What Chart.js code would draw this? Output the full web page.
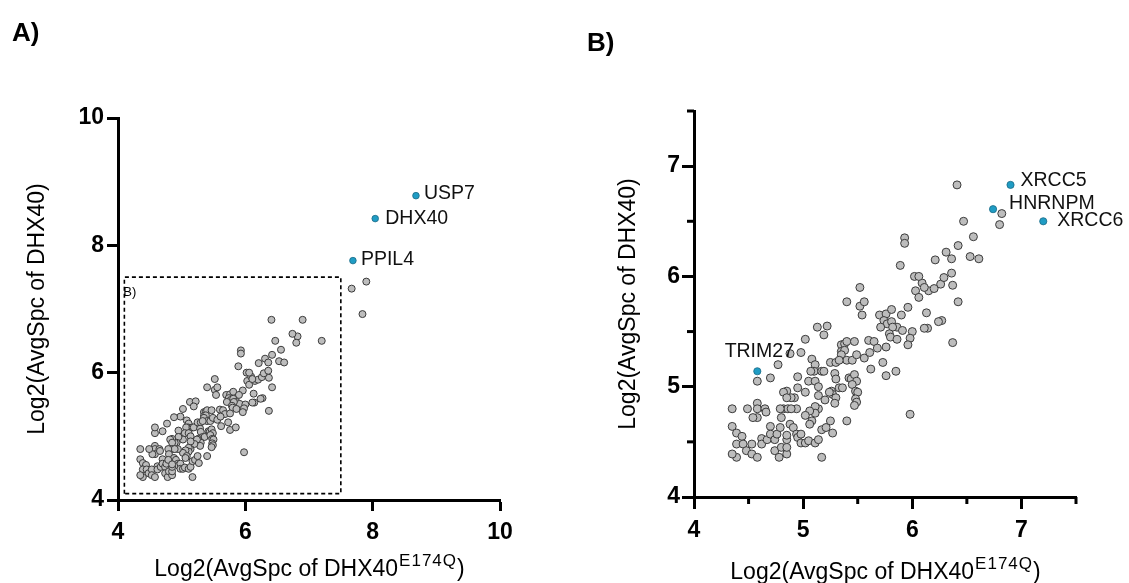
<!DOCTYPE html>
<html>
<head>
<meta charset="utf-8">
<script src="https://cdn.jsdelivr.net/npm/chart.js@4"></script>
<style>
  html, body { margin: 0; padding: 0; background: #fff; }
  #wrap { position: relative; width: 1129px; height: 583px; }
  #boxA { position: absolute; left: 0; top: 0; width: 564px; height: 583px; }
  #boxB { position: absolute; left: 564px; top: 0; width: 565px; height: 583px; }
</style>
</head>
<body>
<div id="wrap">
  <div id="boxA"><canvas id="chartA"></canvas></div>
  <div id="boxB"><canvas id="chartB"></canvas></div>
</div>
<script>
// proteins inside the zoomed window (shared by both panels)
var grayX = [
  5.52,5.40,5.52,5.56,5.54,6.03,6.09,6.06,6.15,6.20,
  6.26,6.37,6.42,6.13,5.96,5.70,5.76,5.81,5.90,5.74,
  5.77,5.81,5.71,5.86,5.91,5.82,6.00,5.98,5.96,5.79,
  5.80,5.86,6.14,6.11,6.27,6.24,6.37,5.13,5.22,5.19,
  5.02,4.98,4.88,4.77,4.70,4.58,5.35,5.38,5.40,5.47,
  5.35,5.38,5.35,5.40,5.45,5.49,5.56,5.60,5.65,5.68,
  5.76,5.61,5.73,5.76,5.85,5.62,5.08,5.11,5.10,5.07,
  5.17,5.19,5.25,5.30,5.33,4.95,5.05,5.11,5.14,5.29,
  5.30,5.33,5.36,5.42,5.44,5.47,5.49,5.45,5.48,5.50,
  5.48,5.49,5.47,5.26,5.27,5.30,5.29,5.24,5.20,5.14,
  5.14,5.11,5.11,5.06,5.02,5.02,4.95,4.92,4.89,4.85,
  4.82,4.85,4.82,4.86,4.94,4.89,4.79,4.80,4.88,4.91,
  4.94,4.95,4.98,4.98,5.02,5.05,5.11,5.14,5.17,5.21,
  5.25,5.27,5.08,5.06,5.17,5.40,5.98,4.58,4.58,4.58,
  4.54,4.49,4.65,4.66,4.35,4.35,4.39,4.44,4.39,4.45,
  4.48,4.53,4.53,4.58,4.39,4.35,4.62,4.62,4.67,4.70,
  4.70,4.74,4.76,4.79,4.74,4.78,4.80,4.85,4.85,4.85,
  4.85,6.41,6.82,6.80,6.47,6.56,6.42,6.31,6.36,6.21,
  6.53,6.61,5.93,5.93,5.89,6.02,6.06,6.29,6.36,6.11
];
var grayY = [
  5.90,5.77,5.73,5.77,5.65,5.87,5.94,5.81,5.87,5.89,
  5.93,5.92,5.77,5.67,5.72,5.65,5.66,5.70,5.65,5.60,
  5.57,5.59,5.54,5.54,5.51,5.54,5.50,5.44,5.38,5.48,
  5.45,5.43,5.53,5.53,5.60,5.59,5.40,5.54,5.55,5.47,
  5.43,5.31,5.30,5.20,5.08,5.05,5.38,5.39,5.41,5.41,
  5.32,5.33,5.29,5.24,5.24,5.29,5.26,5.42,5.41,5.35,
  5.36,5.31,5.22,5.10,5.14,5.16,5.25,5.20,5.14,5.14,
  5.14,5.14,5.22,5.22,5.24,5.09,5.05,5.05,5.00,5.12,
  5.07,4.99,4.99,5.08,5.07,5.11,5.05,5.02,4.96,4.95,
  4.89,4.86,4.83,4.96,4.93,4.90,4.85,4.95,4.88,4.92,
  4.80,4.82,4.76,4.78,4.74,4.95,4.99,4.90,4.90,4.96,
  4.95,4.90,4.80,4.80,4.80,4.80,4.80,4.72,4.66,4.63,
  4.57,4.54,4.57,4.49,4.49,4.51,4.49,4.52,4.61,4.63,
  4.69,4.58,4.69,4.66,4.36,4.69,4.75,4.85,4.80,4.72,
  4.72,4.80,4.80,4.77,4.80,4.64,4.58,4.55,4.48,4.48,
  4.42,4.48,4.39,4.36,4.36,4.39,4.53,4.48,4.52,4.64,
  4.57,4.52,4.57,4.63,4.42,4.36,4.45,4.39,4.45,4.52,
  4.56,6.83,6.57,6.47,6.50,6.36,6.28,6.22,6.16,6.15,
  6.18,6.16,6.35,6.30,6.10,6.00,6.00,5.99,6.03,5.90
];
// proteins only visible in panel A
var extraX = [7.67, 7.90, 7.84];
var extraY = [7.32, 7.43, 6.92];

// highlighted proteins
var hitNamesA = ['USP7', 'DHX40', 'PPIL4'];
var hitXA = [8.68, 8.04, 7.69];
var hitYA = [8.78, 8.42, 7.76];
var hitNamesB = ['XRCC5', 'HNRNPM', 'XRCC6', 'TRIM27'];
var hitXB = [6.90, 6.74, 7.20, 4.58];
var hitYB = [6.83, 6.61, 6.50, 5.14];

// axes
var rangeA = [4, 10];
var ticksA = [4, 6, 8, 10];
var rangeB = [4, 7.5];
var ticksB = [4, 5, 6, 7];
var minorB = [4.5, 5.5, 6.5, 7.5];
var boxX = [4.1, 7.5];
var boxY = [4.1, 7.5];

var xTitle = ['Log2(AvgSpc of DHX40', 'E174Q', ')'];
var yTitle = 'Log2(AvgSpc of DHX40)';

var FONT = '"Liberation Sans", Arial, Helvetica, sans-serif';
var GRAY = '#bdbdbd', GRAY_EDGE = '#3a3a3a', BLUE = '#1f9cc4', BLUE_EDGE = '#1a6a85';

function pts(xs, ys) {
  return xs.map(function(x, i) { return { x: x, y: ys[i] }; });
}

function axis(range, ticks, isY, size, tickLen, pad) {
  return {
    type: 'linear',
    min: range[0],
    max: range[1],
    afterBuildTicks: function(s) { s.ticks = ticks.map(function(v) { return { value: v }; }); },
    afterFit: function(s) { if (isY) s.width = size; else s.height = size; },
    border: { display: true, color: '#000', width: 3 },
    grid: { display: true, drawOnChartArea: false, drawTicks: true, tickLength: tickLen, tickWidth: 3, tickColor: '#000' },
    ticks: { color: '#000', padding: pad, autoSkip: false, maxRotation: 0,
             font: { family: FONT, size: 23, weight: 'bold' } }
  };
}

function deco(cfg) {
  return {
    id: 'deco',
    afterDraw: function(chart) {
      var ctx = chart.ctx, ca = chart.chartArea;
      var xs = chart.scales.x, ys = chart.scales.y;
      ctx.save();
      ctx.fillStyle = '#000';
      ctx.strokeStyle = '#000';

      // panel letter
      ctx.font = 'bold 26px ' + FONT;
      ctx.textAlign = 'left';
      ctx.textBaseline = 'alphabetic';
      ctx.fillText(cfg.panel, cfg.panelPos[0], cfg.panelPos[1]);

      // minor ticks
      if (cfg.minor) {
        ctx.lineWidth = 3;
        cfg.minor.forEach(function(v) {
          var px = xs.getPixelForValue(v);
          ctx.beginPath(); ctx.moveTo(px, ca.bottom); ctx.lineTo(px, ca.bottom + 7); ctx.stroke();
          var py = ys.getPixelForValue(v);
          ctx.beginPath(); ctx.moveTo(ca.left, py); ctx.lineTo(ca.left - 7, py); ctx.stroke();
        });
      }

      // y title
      ctx.save();
      ctx.translate(cfg.yTitleX, (ca.top + ca.bottom) / 2);
      ctx.rotate(-Math.PI / 2);
      ctx.font = '23px ' + FONT;
      ctx.textAlign = 'center';
      ctx.textBaseline = 'middle';
      ctx.fillText(yTitle, 0, 0);
      ctx.restore();

      // x title with superscript
      ctx.textAlign = 'left';
      ctx.textBaseline = 'alphabetic';
      ctx.font = '23px ' + FONT;
      var w1 = ctx.measureText(xTitle[0]).width;
      var w3 = ctx.measureText(xTitle[2]).width;
      ctx.font = '17px ' + FONT;
      ctx.letterSpacing = '1px';
      var w2 = ctx.measureText(xTitle[1]).width;
      ctx.letterSpacing = '0px';
      var x0 = (ca.left + ca.right) / 2 - (w1 + w2 + w3) / 2;
      ctx.font = '23px ' + FONT;
      ctx.fillText(xTitle[0], x0, cfg.xTitleY);
      ctx.font = '17px ' + FONT;
      ctx.letterSpacing = '1px';
      ctx.fillText(xTitle[1], x0 + w1 + 1, cfg.xTitleY - 10);
      ctx.letterSpacing = '0px';
      ctx.font = '23px ' + FONT;
      ctx.fillText(xTitle[2], x0 + w1 + w2 + 1, cfg.xTitleY);

      // labels of highlighted proteins
      ctx.fillStyle = '#111';
      ctx.font = '19.5px ' + FONT;
      ctx.textBaseline = 'middle';
      cfg.names.forEach(function(n, i) {
        var o = cfg.offsets[i];
        ctx.textAlign = o[2];
        ctx.fillText(n, xs.getPixelForValue(cfg.hx[i]) + o[0], ys.getPixelForValue(cfg.hy[i]) + o[1]);
      });

      // zoom window tag
      if (cfg.boxTag) {
        ctx.fillStyle = '#000';
        ctx.font = '13px ' + FONT;
        ctx.textAlign = 'left';
        ctx.textBaseline = 'alphabetic';
        ctx.fillText(cfg.boxTag, xs.getPixelForValue(boxX[0]) - 1, ys.getPixelForValue(boxY[1]) + 19);
      }
      ctx.restore();
    }
  };
}

function grayDs(data, r) {
  return { data: data, backgroundColor: GRAY, borderColor: GRAY_EDGE, borderWidth: 1,
           pointRadius: r, order: 1 };
}
function blueDs(data, r) {
  return { data: data, backgroundColor: BLUE, borderColor: BLUE_EDGE, borderWidth: 0.8,
           pointRadius: r, order: 0 };
}

var common = {
  responsive: true,
  maintainAspectRatio: false,
  animation: false,
  events: [],
  plugins: { legend: { display: false }, tooltip: { enabled: false } }
};

// Panel A
new Chart(document.getElementById('chartA'), {
  type: 'scatter',
  data: {
    datasets: [
      blueDs(pts(hitXA, hitYA), 3.3),
      grayDs(pts(grayX.concat(extraX, hitXB), grayY.concat(extraY, hitYB)), 3.5),
      { data: [
          { x: boxX[0], y: boxY[0] }, { x: boxX[0], y: boxY[1] },
          { x: boxX[1], y: boxY[1] }, { x: boxX[1], y: boxY[0] },
          { x: boxX[0], y: boxY[0] } ],
        showLine: true, borderColor: '#000', borderWidth: 1.6, borderDash: [4, 3],
        pointRadius: 0, fill: false, order: 2 }
    ]
  },
  options: Object.assign({}, common, {
    layout: { padding: { top: 118, right: 64, left: 0, bottom: 0 } },
    scales: {
      x: axis(rangeA, ticksA, false, 83, 11, 8),
      y: axis(rangeA, ticksA, true, 118, 11, 3)
    }
  }),
  plugins: [deco({
    panel: 'A)', panelPos: [12, 41], yTitleX: 38, xTitleY: 576,
    names: hitNamesA, hx: hitXA, hy: hitYA,
    offsets: [[8, -2, 'left'], [10, 0, 'left'], [8, -1, 'left']],
    boxTag: 'B)'
  })]
});

// Panel B
new Chart(document.getElementById('chartB'), {
  type: 'scatter',
  data: {
    datasets: [
      blueDs(pts(hitXB, hitYB), 3.6),
      grayDs(pts(grayX, grayY), 4)
    ]
  },
  options: Object.assign({}, common, {
    layout: { padding: { top: 111, right: 53, left: 0, bottom: 0 } },
    scales: {
      x: axis(rangeB, ticksB, false, 86, 12, 8),
      y: axis(rangeB, ticksB, true, 130, 12, 2)
    }
  }),
  plugins: [deco({
    panel: 'B)', panelPos: [23, 51], yTitleX: 65, xTitleY: 579,
    minor: minorB,
    names: hitNamesB, hx: hitXB, hy: hitYB,
    offsets: [[10, -4, 'left'], [16, -6, 'left'], [14, -1, 'left'], [2, -20, 'center']]
  })]
});
</script>
</body>
</html>
